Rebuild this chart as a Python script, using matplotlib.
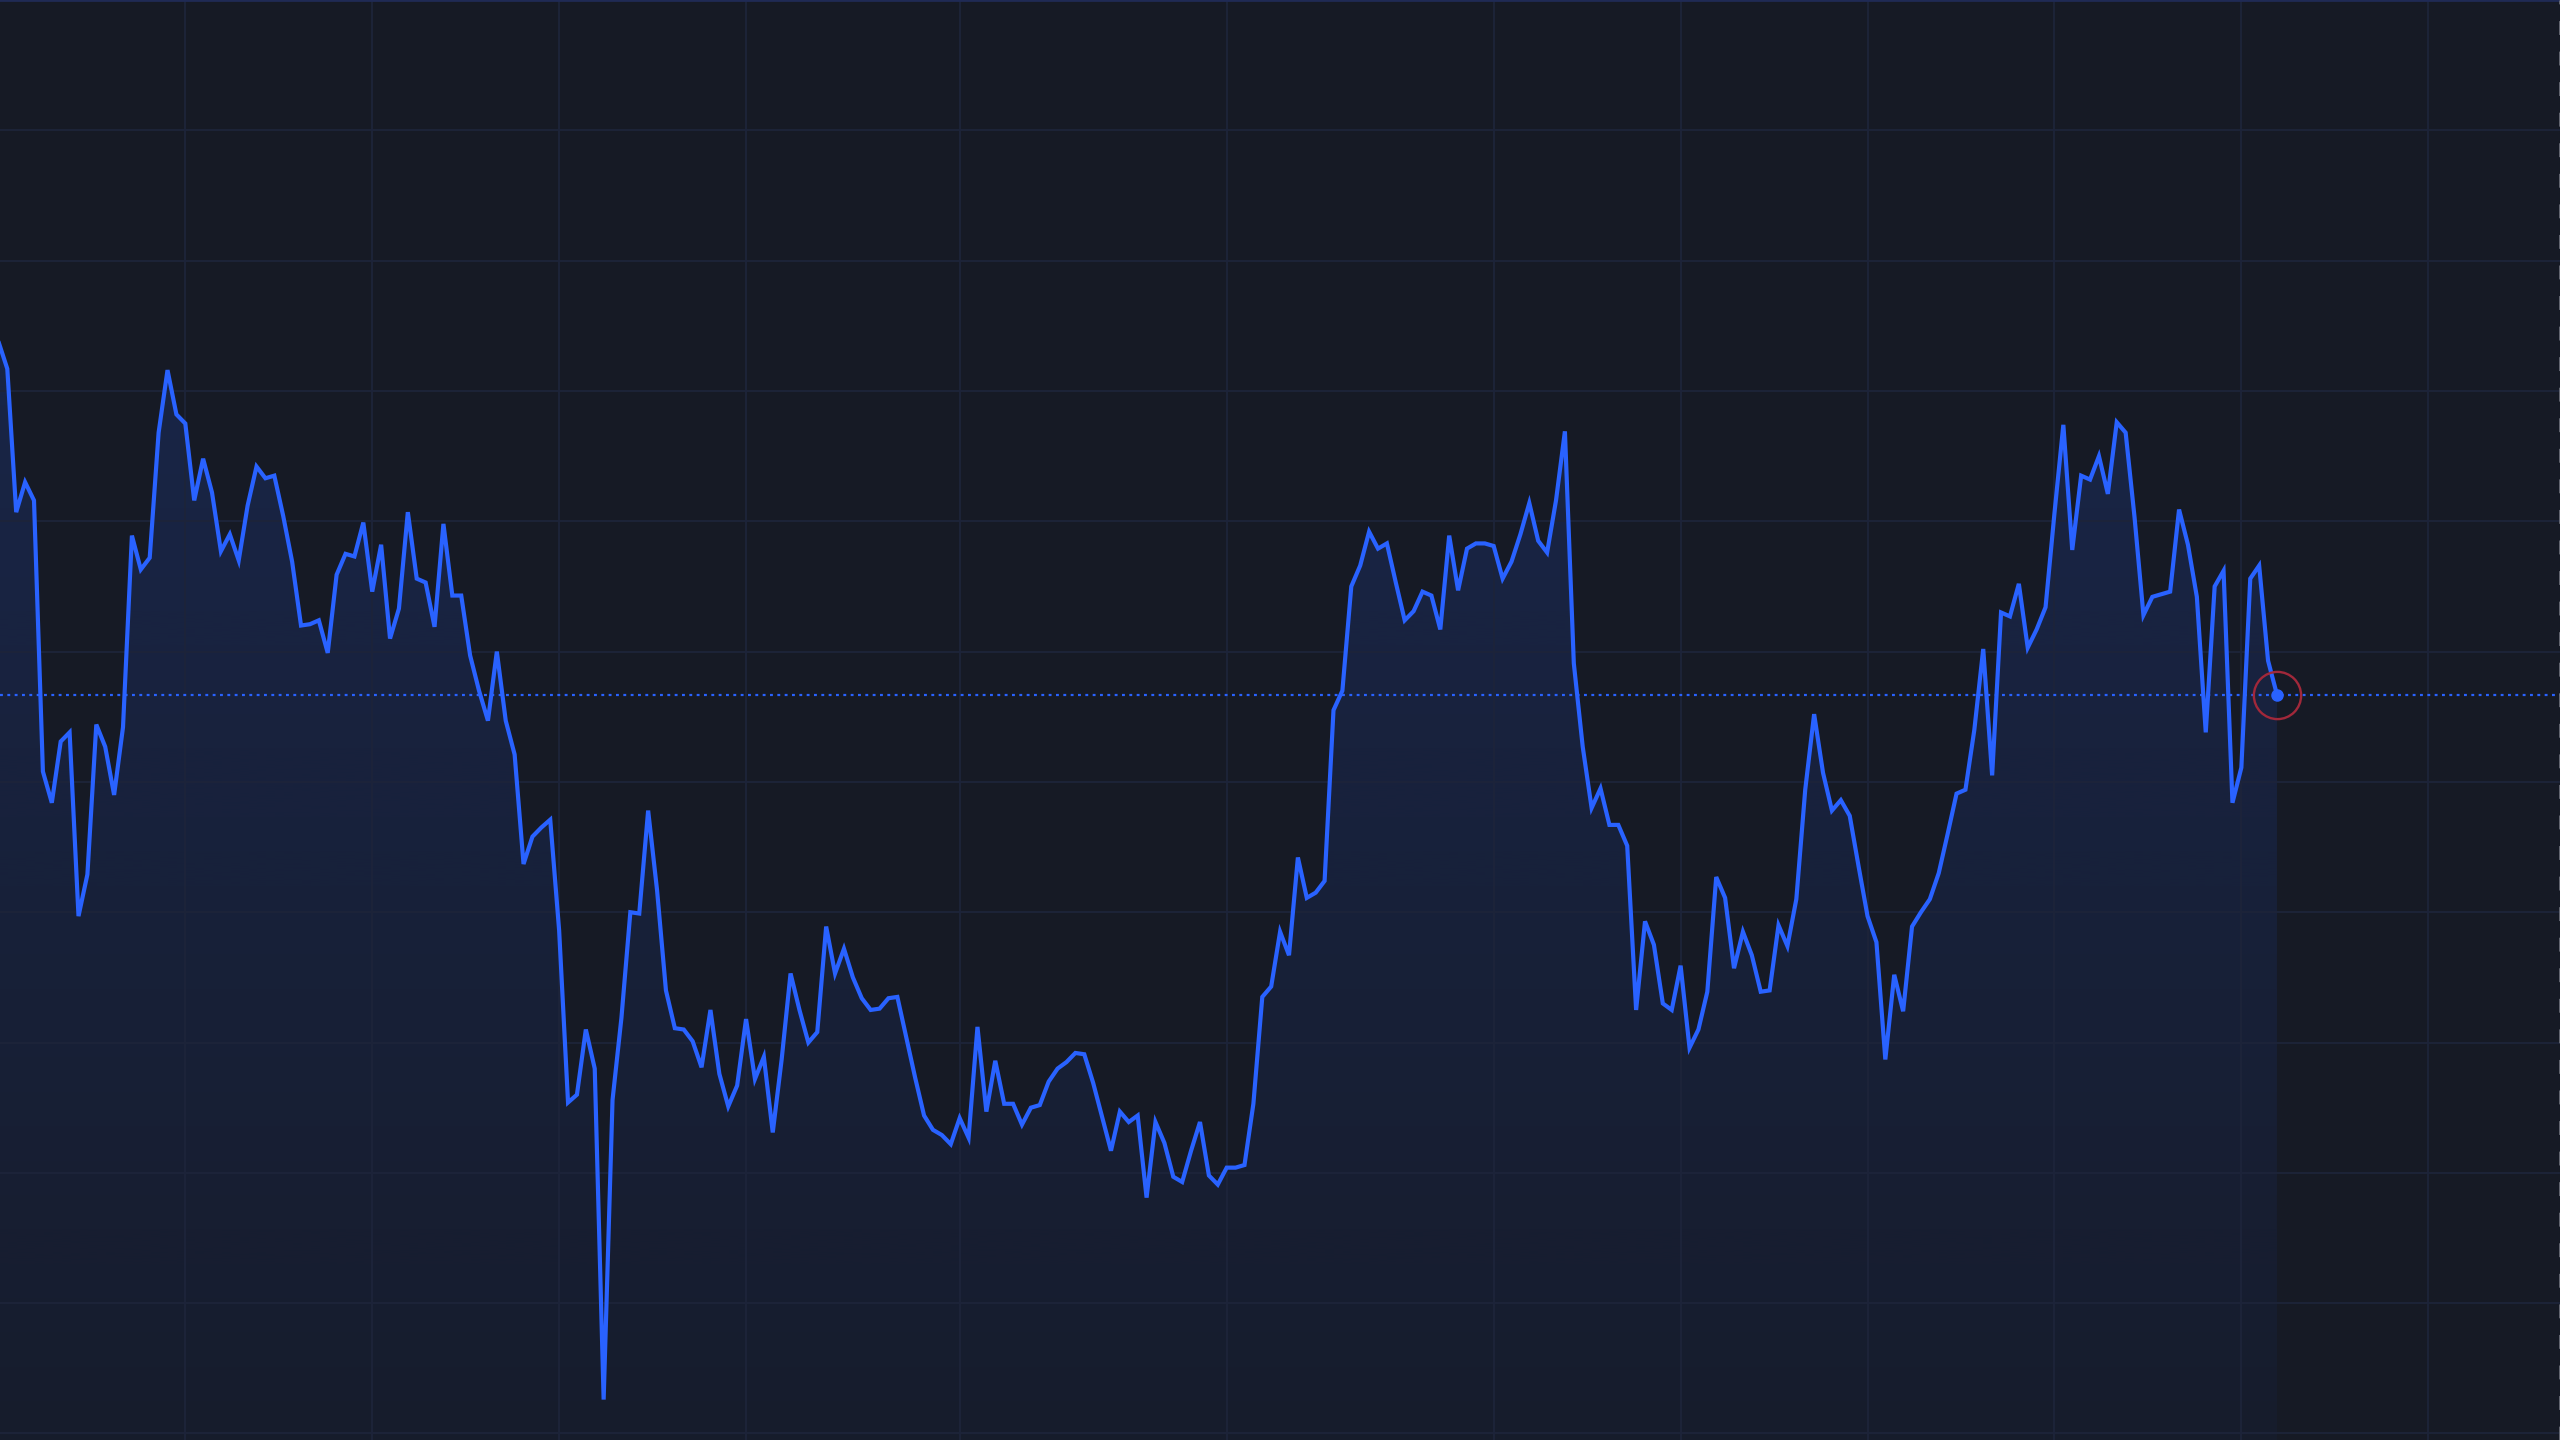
import numpy as np
import matplotlib
matplotlib.use("Agg")
import matplotlib.pyplot as plt
from matplotlib.colors import to_rgb

# ---- data (price per bar) ----
prices = [
    133.8, 131.7, 120.7, 123.0, 121.6, 100.8, 98.4, 103.1, 103.8, 89.7,
    92.9, 104.4, 102.7, 99.0, 104.2, 118.9, 116.3, 117.2, 126.8, 131.6,
    128.2, 127.5, 121.6, 124.8, 122.2, 117.7, 119.0, 117.0, 121.2, 124.2,
    123.3, 123.5, 120.4, 116.9, 112.0, 112.1, 112.4, 109.9, 115.9, 117.5,
    117.3, 119.9, 114.6, 118.2, 111.0, 113.3, 120.7, 115.6, 115.3, 111.9,
    119.8, 114.3, 114.3, 109.7, 107.0, 104.7, 110.0, 104.7, 102.1, 93.7,
    95.8, 96.5, 97.1, 88.6, 75.4, 76.0, 81.0, 78.0, 52.6, 75.6,
    81.9, 90.0, 89.9, 97.8, 91.7, 84.0, 81.1, 81.0, 80.1, 78.1,
    82.5, 77.6, 75.1, 76.7, 81.8, 77.2, 78.9, 73.1, 78.7, 85.3,
    82.5, 80.0, 80.8, 88.9, 85.3, 87.2, 85.0, 83.4, 82.5, 82.6,
    83.4, 83.5, 80.4, 77.3, 74.4, 73.3, 72.9, 72.2, 74.2, 72.7,
    81.2, 74.7, 78.6, 75.3, 75.3, 73.7, 75.0, 75.2, 77.0, 78.0,
    78.5, 79.2, 79.1, 76.9, 74.3, 71.7, 74.7, 73.9, 74.4, 68.1,
    73.9, 72.3, 69.7, 69.3, 71.7, 73.9, 69.8, 69.1, 70.4, 70.4,
    70.6, 75.3, 83.5, 84.3, 88.5, 86.7, 94.2, 91.1, 91.5, 92.4,
    105.5, 107.0, 115.0, 116.6, 119.2, 117.9, 118.3, 115.3, 112.4, 113.1,
    114.6, 114.3, 111.7, 118.9, 114.7, 117.9, 118.3, 118.3, 118.1, 115.6,
    116.9, 119.0, 121.4, 118.5, 117.6, 121.6, 126.9, 109.1, 102.7, 98.0,
    99.5, 96.7, 96.7, 95.1, 82.5, 89.3, 87.5, 83.0, 82.5, 85.9,
    79.6, 81.0, 83.9, 92.7, 91.1, 85.7, 88.5, 86.7, 83.9, 84.0,
    89.0, 87.4, 91.0, 99.4, 105.2, 100.7, 97.8, 98.6, 97.4, 93.5,
    89.7, 87.7, 78.7, 85.2, 82.4, 88.9, 90.0, 91.0, 93.0, 96.0,
    99.1, 99.4, 104.0, 110.2, 100.5, 113.0, 112.7, 115.2, 110.3, 111.7,
    113.4, 120.6, 127.4, 117.8, 123.5, 123.2, 125.0, 122.1, 127.6, 126.8,
    120.3, 112.8, 114.2, 114.4, 114.6, 120.9, 118.2, 114.2, 103.8, 115.0,
    116.2, 98.4, 101.1, 115.6, 116.6, 109.3, 106.7,
]
month_bars = [21, 42, 63, 84, 108, 138, 168, 189, 210, 231, 252, 273]
price_levels = [150, 140, 130, 120, 110, 100, 90, 80, 70, 60, 50]

# ---- style ----
BG = "#161a25"
GRID = "#1d243a"
LINE = "#2962ff"
RING = "#a1283a"

x = np.arange(len(prices))
y = np.array(prices)
ymin, ymax = 49.5, 160.0

fig = plt.figure(figsize=(25.6, 14.4), dpi=100, facecolor=BG)
ax = fig.add_axes([0, 0, 1, 1])
ax.set_facecolor(BG)
ax.set_xlim(0.18, 287.8)
ax.set_ylim(ymin, ymax)

# grid
ax.set_xticks(month_bars)
ax.set_yticks(price_levels)
ax.tick_params(length=0, labelleft=False, labelbottom=False)
ax.grid(True, color=GRID, linewidth=1.3, zorder=0)
for s in ax.spines.values():
    s.set_visible(False)

# gradient area under the line
poly = ax.fill_between(x, y, ymin, color="none", linewidth=0)
r, g, b = to_rgb(LINE)
n = 256
grad = np.zeros((n, 1, 4))
grad[..., 0], grad[..., 1], grad[..., 2] = r, g, b
grad[:, 0, 3] = np.linspace(0.16, 0.035, n)
top = y.max()
img = ax.imshow(grad, extent=[x[0], x[-1], ymin, top], aspect="auto",
                origin="upper", zorder=1, interpolation="bicubic")
img.set_clip_path(poly.get_paths()[0], transform=ax.transData)

# price line
ax.plot(x, y, color=LINE, linewidth=3.0, solid_joinstyle="miter", zorder=3)

# last price dotted line
ax.axhline(y[-1], color=LINE, linewidth=1.6, linestyle=(0, (1.3, 2.0)), zorder=2)

# last point marker and ring
ax.plot(x[-1], y[-1], "o", color=LINE, markersize=8, zorder=4)
ax.plot(x[-1], y[-1], "o", markerfacecolor="none", markeredgecolor=RING,
        markersize=34, markeredgewidth=1.7, zorder=4)

# pane borders
ax.axhline(ymax, color="#1f2a55", linewidth=2.0, zorder=2)
ax.axvline(287.8, color="#6b6e79", linewidth=2.0, linestyle=(0, (5, 6)), zorder=2)

fig.savefig("out.png", dpi=100, facecolor=BG)
